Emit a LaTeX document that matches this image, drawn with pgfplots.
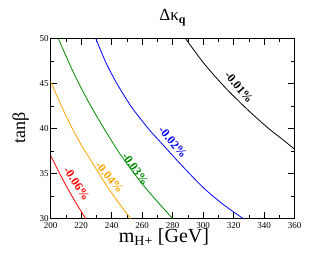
\documentclass[border=0pt]{standalone}
\usepackage{fontspec}
\setmainfont{Liberation Serif}
\usepackage{pgfplots}
\pgfplotsset{compat=1.18}
\definecolor{gorange}{RGB}{255,165,0}
\definecolor{ggreen}{RGB}{0,139,0}
\tikzset{lbl/.style={rotate=#1, inner sep=0pt, font=\fontsize{12}{13}\selectfont\bfseries}}
\begin{document}
\begin{tikzpicture}[x=1pt,y=1pt]
\path[use as bounding box] (-50.7,-38.3) rectangle (281.3,218.7);
\begin{axis}[
  at={(0,0)}, anchor=south west,
  scale only axis, width=244pt, height=180.2pt,
  xmin=200, xmax=360, ymin=30, ymax=50,
  xtick={200,220,...,360}, minor x tick num=1,
  ytick={30,35,...,50}, minor y tick num=1,
  tick align=inside,
  major tick length=6.5pt, minor tick length=3.5pt,
  tick style={black, line width=0.5pt},
  axis line style={line width=0.6pt},
  every tick label/.append style={font=\fontsize{9}{10}\selectfont},
  /pgf/number format/assume math mode=true,
  yticklabel style={xshift=1.5pt},
  title={\fontsize{17}{19}\selectfont Δκ\textsubscript{\textbf{q}}},
  title style={at={(axis description cs:0.5,1)}, anchor=base, yshift=11.8pt},
  xlabel={\fontsize{20}{22}\selectfont m\textsubscript{H+} [GeV]},
  xlabel style={at={([yshift=-23.8pt]axis description cs:0.464,0)}, anchor=base},
  ylabel={\fontsize{18}{20}\selectfont tanβ},
  ylabel style={at={([xshift=-25.5pt]axis description cs:0,0.502)}, anchor=base},
  clip=true,
]
\addplot[red, line width=0.8pt, smooth] coordinates {
  (200,37.0) (205,35.3) (210,33.7) (215,32.2) (220,30.8) (223,30.0)};
\addplot[gorange, line width=0.8pt, smooth] coordinates {
  (200,45.2) (206,42.9) (213,40.4) (220,38.2) (227,36.3) (235,34.1) (244,31.9) (252.5,30.0)};
\addplot[ggreen, line width=0.8pt, smooth] coordinates {
  (205,50) (215,46.2) (225,42.9) (235,40.0) (245,37.3) (255,34.95) (265,32.85) (280,30)};
\addplot[blue, line width=0.8pt, smooth] coordinates {
  (229.6,50) (236,47.4) (243.4,45) (253,42.4) (264,40) (272,38.5) (286,35.9) (300.4,33.4) (313,31.6) (326.3,30)};
\addplot[black, line width=0.8pt, smooth] coordinates {
  (288.4,50) (300.4,47.25) (312,45.0) (320,43.6) (331,41.8) (343,40) (352,38.8) (360,37.7)};
\node[red, lbl=-56] at (axis cs:217.1,33.9) {-0.06\%};
\node[gorange, lbl=-50] at (axis cs:238.5,34.6) {-0.04\%};
\node[ggreen, lbl=-55] at (axis cs:255.5,35.5) {-0.03\%};
\node[blue, lbl=-50] at (axis cs:280.1,38.5) {-0.02\%};
\node[black, lbl=-50] at (axis cs:323.4,44.6) {-0.01\%};
\end{axis}
\end{tikzpicture}
\end{document}
